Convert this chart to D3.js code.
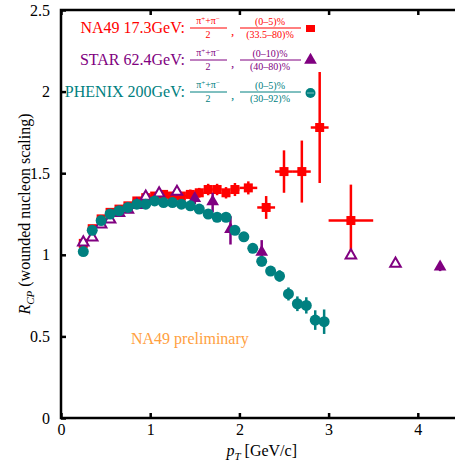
<!DOCTYPE html>
<html>
<head>
<meta charset="utf-8">
<script src="https://cdn.jsdelivr.net/npm/d3@7"></script>
</head>
<body style="margin:0">
<svg id="chart" width="455" height="465" font-family="Liberation Serif">
  <text x="261.7" y="456" text-anchor="middle" font-family="Liberation Serif" font-size="16"><tspan font-style="italic">p</tspan><tspan font-style="italic" font-size="11" dy="4">T</tspan><tspan dy="-4"> [GeV/c]</tspan></text>
  <text transform="translate(30,214) rotate(-90)" text-anchor="middle" font-family="Liberation Serif" font-size="16"><tspan font-style="italic">R</tspan><tspan font-style="italic" font-size="11" dy="4">CP</tspan><tspan dy="-4"> (wounded nucleon scaling)</tspan></text>
</svg>
<script>
// NA49 17.3 GeV
var na49Pt = [0.25,0.35,0.45,0.55,0.65,0.75,0.85,0.95,1.05,1.15,1.25,1.35,1.45,1.55,1.65,1.75,1.85,1.95,2.1,2.3,2.5,2.7,2.9,3.25];
var na49R  = [1.07,1.16,1.22,1.26,1.28,1.30,1.33,1.35,1.36,1.37,1.36,1.36,1.37,1.38,1.40,1.40,1.38,1.40,1.41,1.29,1.51,1.51,1.78,1.21];
var na49Ey = [0.01,0.01,0.01,0.01,0.01,0.01,0.015,0.015,0.015,0.015,0.02,0.02,0.03,0.03,0.035,0.035,0.035,0.04,0.04,0.07,0.13,0.19,0.34,0.22];
var na49Ex = [0.05,0.05,0.05,0.05,0.05,0.05,0.05,0.05,0.05,0.05,0.05,0.05,0.05,0.05,0.05,0.05,0.05,0.05,0.1,0.1,0.1,0.1,0.1,0.25];

// STAR 62.4 GeV
var starPt   = [0.25,0.35,0.45,0.55,0.65,0.75,0.85,0.95,1.1,1.3,1.5,1.7,1.9,2.25,3.25,3.75,4.25];
var starR    = [1.07,1.10,1.18,1.21,1.25,1.27,1.30,1.35,1.37,1.38,1.34,1.32,1.15,1.01,0.99,0.94,0.92];
var starEy   = [0,0,0,0,0,0,0,0,0,0,0.03,0.06,0.087,0.08,0,0,0.02];
var starOpen = [1,1,1,1,1,1,1,1,1,1,0,0,0,0,1,1,0];

// PHENIX 200 GeV
var phenixPt = [0.25,0.35,0.45,0.55,0.65,0.75,0.85,0.95,1.05,1.15,1.25,1.35,1.45,1.55,1.65,1.75,1.85,1.95,2.05,2.15,2.25,2.35,2.45,2.55,2.65,2.75,2.85,2.95];
var phenixR  = [1.02,1.15,1.21,1.25,1.27,1.29,1.31,1.31,1.33,1.32,1.32,1.31,1.30,1.28,1.25,1.23,1.23,1.15,1.11,1.04,0.96,0.90,0.87,0.76,0.70,0.69,0.60,0.59];
var phenixEy = [0,0,0,0,0,0,0,0,0,0,0,0,0,0,0,0,0,0.01,0.015,0.02,0.03,0.03,0.035,0.04,0.045,0.05,0.06,0.075];

var xTicks = [0,1,2,3,4];
var yTicks = [0,0.5,1,1.5,2,2.5];

var red = "#ff0000", purple = "#800080", teal = "#008080";
var serif = "Liberation Serif";

var svg = d3.select("#chart");
var x = d3.scaleLinear().domain([0, 4.5]).range([61, 462.4]);
var y = d3.scaleLinear().domain([0, 2.5]).range([418, 10]);

function txt(sel) {
  return sel.append("text").attr("font-family", serif);
}

// axes, ticks inward
var gx = svg.append("g").attr("transform", "translate(0," + y(0) + ")")
  .call(d3.axisBottom(x).tickValues(xTicks).tickSizeInner(-5).tickSizeOuter(0).tickPadding(6)
    .tickFormat(d3.format("d")));
var gxt = svg.append("g").attr("transform", "translate(0," + y(2.5) + ")")
  .call(d3.axisTop(x).tickValues(xTicks).tickSizeInner(-5).tickSizeOuter(0).tickFormat(""));
var gy = svg.append("g").attr("transform", "translate(" + x(0) + ",0)")
  .call(d3.axisLeft(y).tickValues(yTicks).tickSizeInner(-5).tickSizeOuter(0).tickPadding(11)
    .tickFormat(function(d) { return d; }));
[gx, gxt, gy].forEach(function(g) {
  g.attr("font-family", serif).attr("font-size", 16);
  g.select(".domain").remove();
  g.selectAll(".tick line").attr("stroke", "#000").attr("stroke-width", 2.5);
  g.selectAll(".tick text").attr("fill", "#000").attr("font-family", serif);
});

svg.append("rect")
  .attr("x", x(0)).attr("y", y(2.5))
  .attr("width", x(4.5) - x(0)).attr("height", y(0) - y(2.5))
  .attr("fill", "none").attr("stroke", "#000").attr("stroke-width", 2.5);

// NA49 points
var na49 = na49Pt.map(function(p, i) { return {x: p, y: na49R[i], ey: na49Ey[i], ex: na49Ex[i]}; });
var gn = svg.append("g");
gn.selectAll(".ey").data(na49).enter().append("line")
  .attr("x1", function(d) { return x(d.x); }).attr("x2", function(d) { return x(d.x); })
  .attr("y1", function(d) { return y(d.y - d.ey); }).attr("y2", function(d) { return y(d.y + d.ey); })
  .attr("stroke", red).attr("stroke-width", 2.5);
gn.selectAll(".ex").data(na49).enter().append("line")
  .attr("x1", function(d) { return x(d.x - d.ex); }).attr("x2", function(d) { return x(d.x + d.ex); })
  .attr("y1", function(d) { return y(d.y); }).attr("y2", function(d) { return y(d.y); })
  .attr("stroke", red).attr("stroke-width", 2.5);
gn.selectAll("rect").data(na49).enter().append("rect")
  .attr("x", function(d) { return x(d.x) - 4.5; }).attr("y", function(d) { return y(d.y) - 4.5; })
  .attr("width", 9).attr("height", 9).attr("fill", red);

// STAR points
var star = starPt.map(function(p, i) { return {x: p, y: starR[i], ey: starEy[i], open: starOpen[i]}; });
var gs = svg.append("g");
gs.selectAll("line").data(star.filter(function(d) { return d.ey > 0; })).enter().append("line")
  .attr("x1", function(d) { return x(d.x); }).attr("x2", function(d) { return x(d.x); })
  .attr("y1", function(d) { return y(d.y - d.ey); }).attr("y2", function(d) { return y(d.y + d.ey); })
  .attr("stroke", purple).attr("stroke-width", 2.5);
var tri = d3.symbol().type(d3.symbolTriangle);
gs.selectAll("path").data(star).enter().append("path")
  .attr("d", function(d) { return tri.size(d.open ? 48 : 70)(); })
  .attr("transform", function(d) { return "translate(" + x(d.x) + "," + (y(d.y) - 1) + ")"; })
  .attr("fill", function(d) { return d.open ? "#fff" : purple; })
  .attr("stroke", purple).attr("stroke-width", function(d) { return d.open ? 2 : 0; });

// PHENIX points
var phenix = phenixPt.map(function(p, i) { return {x: p, y: phenixR[i], ey: phenixEy[i]}; });
var gp = svg.append("g");
gp.selectAll("line").data(phenix.filter(function(d) { return d.ey > 0; })).enter().append("line")
  .attr("x1", function(d) { return x(d.x); }).attr("x2", function(d) { return x(d.x); })
  .attr("y1", function(d) { return y(d.y - d.ey); }).attr("y2", function(d) { return y(d.y + d.ey); })
  .attr("stroke", teal).attr("stroke-width", 2.5);
gp.selectAll("circle").data(phenix).enter().append("circle")
  .attr("cx", function(d) { return x(d.x); }).attr("cy", function(d) { return y(d.y); })
  .attr("r", 5.5).attr("fill", teal);

// legend
var legend = [
  {name: "NA49 17.3GeV:", num: "(0\u20135)%", den: "(33.5\u201380)%", color: red, yb: 33},
  {name: "STAR 62.4GeV:", num: "(0\u201310)%", den: "(40\u201380)%", color: purple, yb: 65},
  {name: "PHENIX 200GeV:", num: "(0\u20135)%", den: "(30\u201392)%", color: teal, yb: 97}
];
legend.forEach(function(d) {
  var g = svg.append("g").attr("transform", "translate(0," + d.yb + ")").attr("fill", d.color);
  txt(g).attr("x", 185).attr("text-anchor", "end").attr("font-size", 16).text(d.name);
  // pion fraction
  var t = txt(g).attr("x", 208).attr("y", -9).attr("text-anchor", "middle").attr("font-size", 10);
  t.append("tspan").text("\u03c0");
  t.append("tspan").attr("font-size", 7).attr("dy", -3).text("+");
  t.append("tspan").attr("dy", 3).text("+\u03c0");
  t.append("tspan").attr("font-size", 7).attr("dy", -3).text("\u2212");
  g.append("line").attr("x1", 190).attr("x2", 227).attr("y1", -5).attr("y2", -5)
    .attr("stroke", d.color).attr("stroke-width", 1);
  txt(g).attr("x", 208).attr("y", 5).attr("text-anchor", "middle").attr("font-size", 10).text("2");
  txt(g).attr("x", 231).attr("y", 2).attr("font-size", 13).text(",");
  // centrality fraction
  txt(g).attr("x", 270).attr("y", -8).attr("text-anchor", "middle").attr("font-size", 10).text(d.num);
  g.append("line").attr("x1", 240).attr("x2", 301).attr("y1", -5).attr("y2", -5)
    .attr("stroke", d.color).attr("stroke-width", 1);
  txt(g).attr("x", 270).attr("y", 5).attr("text-anchor", "middle").attr("font-size", 10).text(d.den);
});

// legend markers
svg.append("rect").attr("x", 306).attr("y", legend[0].yb - 8).attr("width", 9).attr("height", 7).attr("fill", red);
svg.append("path").attr("d", tri.size(70)())
  .attr("transform", "translate(310.5," + (legend[1].yb - 5) + ")").attr("fill", purple);
svg.append("circle").attr("cx", 310.5).attr("cy", legend[2].yb - 4).attr("r", 5).attr("fill", teal);
svg.append("line").attr("x1", 307).attr("x2", 314).attr("y1", legend[2].yb - 4).attr("y2", legend[2].yb - 4)
  .attr("stroke", "#7fbfbf").attr("stroke-width", 1);

txt(svg).attr("x", 131).attr("y", 344).attr("font-size", 16)
  .attr("fill", "#ffa040").text("NA49 preliminary");
</script>
</body>
</html>
